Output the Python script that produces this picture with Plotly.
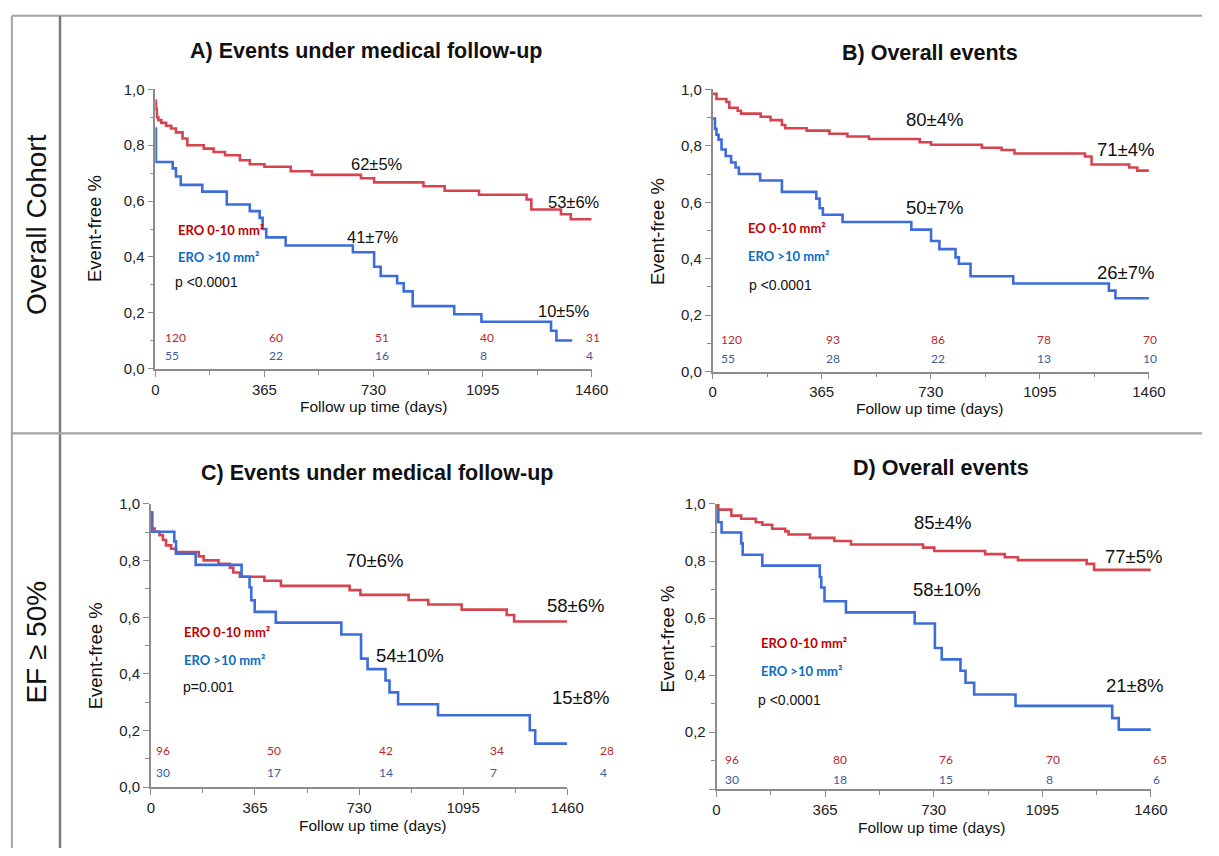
import plotly.graph_objects as go

# ---------------- data ----------------
X_TICKS = [0, 365, 730, 1095, 1460]
X_TICK_TEXT = ["0", "365", "730", "1095", "1460"]
Y_TICKS = [0.0, 0.2, 0.4, 0.6, 0.8, 1.0]
Y_TICK_TEXT = ["0,0", "0,2", "0,4", "0,6", "0,8", "1,0"]

# Panel A - Overall cohort, events under medical follow-up
A_red_t = [0, 2, 5, 10, 20, 36, 53, 69, 91, 107, 162, 195, 233, 283, 316, 365, 453, 524, 688, 732,
           897, 968, 1083, 1242, 1258, 1357, 1390, 1460]
A_red_s = [0.96, 0.93, 0.90, 0.89, 0.88, 0.87, 0.86, 0.846, 0.824, 0.80, 0.788, 0.776, 0.764, 0.746,
           0.732, 0.723, 0.707, 0.694, 0.682, 0.667, 0.653, 0.637, 0.623, 0.606, 0.570, 0.553, 0.535, 0.535]
A_blue_t = [0, 2, 58, 69, 85, 157, 239, 316, 349, 359, 371, 436, 661, 732, 754, 809, 831, 861, 1000,
            1091, 1324, 1342, 1395]
A_blue_s = [0.86, 0.74, 0.717, 0.688, 0.658, 0.634, 0.588, 0.564, 0.540, 0.50, 0.47, 0.441, 0.417,
            0.365, 0.332, 0.306, 0.277, 0.224, 0.195, 0.168, 0.136, 0.101, 0.101]

# Panel B - Overall cohort, overall events
B_red_t = [0, 13, 46, 56, 84, 95, 161, 194, 232, 243, 315, 391, 451, 523, 693, 731, 901, 967, 1010,
           1246, 1268, 1394, 1421, 1460]
B_red_s = [0.984, 0.966, 0.955, 0.935, 0.924, 0.914, 0.903, 0.891, 0.874, 0.862, 0.854, 0.843, 0.833,
           0.824, 0.8125, 0.804, 0.793, 0.785, 0.773, 0.762, 0.734, 0.723, 0.712, 0.712]
B_blue_t = [0, 8, 13, 20, 30, 44, 62, 77, 88, 159, 232, 347, 358, 369, 435, 665, 731, 759, 813, 824,
            863, 1006, 1326, 1348, 1460]
B_blue_s = [0.897, 0.86, 0.839, 0.822, 0.787, 0.764, 0.741, 0.723, 0.700, 0.677, 0.637, 0.613, 0.579,
            0.556, 0.530, 0.503, 0.463, 0.434, 0.405, 0.382, 0.338, 0.3125, 0.287, 0.260, 0.260]

# Panel C - EF >= 50%, events under medical follow-up
C_red_t = [0, 5, 13, 30, 42, 53, 71, 88, 168, 185, 237, 277, 289, 312, 398, 456, 697, 735, 904, 973,
           1090, 1248, 1274, 1460]
C_red_s = [0.97, 0.913, 0.902, 0.890, 0.873, 0.854, 0.842, 0.830, 0.815, 0.801, 0.789, 0.775, 0.758,
           0.743, 0.729, 0.711, 0.696, 0.679, 0.661, 0.645, 0.627, 0.608, 0.585, 0.585]
C_blue_t = [0, 2, 82, 88, 157, 318, 346, 352, 364, 438, 668, 737, 760, 823, 837, 867, 1007, 1329, 1348, 1460]
C_blue_s = [0.971, 0.902, 0.868, 0.824, 0.785, 0.743, 0.706, 0.660, 0.619, 0.581, 0.539, 0.454, 0.417,
            0.377, 0.335, 0.293, 0.254, 0.201, 0.154, 0.154]

# Panel D - EF >= 50%, overall events
D_red_t = [0, 6, 50, 83, 132, 154, 187, 231, 242, 314, 396, 452, 694, 732, 903, 969, 1013, 1244, 1269, 1460]
D_red_s = [1.0, 0.980, 0.959, 0.948, 0.936, 0.927, 0.913, 0.904, 0.893, 0.881, 0.870, 0.858, 0.847,
           0.835, 0.824, 0.813, 0.803, 0.790, 0.769, 0.769]
D_blue_t = [0, 6, 17, 83, 88, 154, 347, 352, 363, 435, 666, 734, 757, 820, 837, 866, 1005, 1330, 1352, 1460]
D_blue_s = [0.976, 0.936, 0.900, 0.862, 0.822, 0.784, 0.744, 0.707, 0.659, 0.620, 0.581, 0.495, 0.455,
            0.415, 0.373, 0.332, 0.292, 0.249, 0.209, 0.209]

# Numbers at risk
A_risk_red = [120, 60, 51, 40, 31]
A_risk_blue = [55, 22, 16, 8, 4]
B_risk_red = [120, 93, 86, 78, 70]
B_risk_blue = [55, 28, 22, 13, 10]
C_risk_red = [96, 50, 42, 34, 28]
C_risk_blue = [30, 17, 14, 7, 4]
D_risk_red = [96, 80, 76, 70, 65]
D_risk_blue = [30, 18, 15, 8, 6]

# Survival labels
A_labels = ["62±5%", "53±6%", "41±7%", "10±5%"]
B_labels = ["80±4%", "71±4%", "50±7%", "26±7%"]
C_labels = ["70±6%", "58±6%", "54±10%", "15±8%"]
D_labels = ["85±4%", "77±5%", "58±10%", "21±8%"]

TITLES = ["A) Events under medical follow-up", "B) Overall events",
          "C) Events under medical follow-up", "D) Overall events"]
LEG_RED = ["ERO 0-10 mm²", "EO 0-10 mm²", "ERO 0-10 mm²", "ERO 0-10 mm²"]
LEG_BLUE = ["ERO >10 mm²", "ERO >10 mm²", "ERO >10 mm²", "ERO >10 mm²"]
P_VALUES = ["p <0.0001", "p <0.0001", "p=0.001", "p <0.0001"]
ROW_LABELS = ["Overall Cohort", "EF ≥ 50%"]

# ---------------- styles / layout positions (pixels) ----------------
W, H = 1219, 856
RED_LINE, BLUE_LINE = "#d6454f", "#3c6ddb"
RED_TXT, BLUE_TXT = "#c00000", "#0b6cc2"
RED_RISK, BLUE_RISK = "#b8272d", "#3a5b9f"
AXIS = "#8c8c8c"
FONT = "Liberation Sans, Arial, sans-serif"
FONT2 = "Lato, Open Sans, sans-serif"


def px(x):
    return x / W


def py(y):
    return 1 - y / H


PANELS = [
    dict(box=(154, 598, 82, 367), red=(A_red_t, A_red_s), blue=(A_blue_t, A_blue_s),
         risk=(A_risk_red, A_risk_blue), risk_x=[161.7, 268, 375, 482.7, 590], risk_y=(335, 354),
         labels=A_labels, label_xy=[(380, 158), (580, 197), (375, 233), (570, 308)], label_size=16.5,
         title_xy=(368, 43), ytitle_xy=(92, 224), xtitle_xy=(376, 406),
         leg_x=175, leg_y=(225, 253), p_xy=(171.5, 279), show_zero=True),
    dict(box=(721, 1165, 82, 370), red=(B_red_t, B_red_s), blue=(B_blue_t, B_blue_s),
         risk=(B_risk_red, B_risk_blue), risk_x=[727.3, 834, 941.7, 1049.3, 1156.7], risk_y=(337, 357),
         labels=B_labels, label_xy=[(946.7, 113), (1140.7, 143.5), (946.7, 203), (1140.7, 268.5)],
         label_size=18.5, title_xy=(942, 45), ytitle_xy=(665, 227), xtitle_xy=(942, 408),
         leg_x=755, leg_y=(223, 252), p_xy=(756.5, 282), show_zero=True),
    dict(box=(149.5, 573, 505, 794), red=(C_red_t, C_red_s), blue=(C_blue_t, C_blue_s),
         risk=(C_risk_red, C_risk_blue), risk_x=[152.7, 266, 379.3, 492.7, 604.3], risk_y=(757, 778.5),
         labels=C_labels, label_xy=[(376.7, 563), (582, 608.5), (412.7, 659.5), (587, 702)],
         label_size=18.5, title_xy=(380, 473), ytitle_xy=(94, 660), xtitle_xy=(375, 833),
         leg_x=180.7, leg_y=(636, 664), p_xy=(180.5, 692), show_zero=True),
    dict(box=(725, 1167, 505, 796), red=(D_red_t, D_red_s), blue=(D_blue_t, D_blue_s),
         risk=(D_risk_red, D_risk_blue), risk_x=[731.7, 841.7, 949.3, 1058.3, 1166.7], risk_y=(766, 786),
         labels=D_labels, label_xy=[(955, 523.5), (1149.5, 558.5), (960, 592), (1150, 690)],
         label_size=18.5, title_xy=(953, 468), ytitle_xy=(675, 643), xtitle_xy=(943.5, 835),
         leg_x=768.3, leg_y=(647, 675), p_xy=(765, 705), show_zero=False),
]

fig = go.Figure()
annotations = []

for i, p in enumerate(PANELS):
    n = i + 1
    xa, ya = ("x", "y") if n == 1 else (f"x{n}", f"y{n}")
    x0, x1, ytop, ybot = p["box"]
    for (t, s), col in ((p["red"], RED_LINE), (p["blue"], BLUE_LINE)):
        fig.add_trace(go.Scatter(x=t, y=s, mode="lines", xaxis=xa, yaxis=ya,
                                 line=dict(color=col, width=2.6, shape="hv"),
                                 showlegend=False, hoverinfo="skip"))
    ytext = list(Y_TICK_TEXT) if p["show_zero"] else [""] + Y_TICK_TEXT[1:]
    axis_common = dict(showline=True, linecolor=AXIS, linewidth=1.6, ticks="outside",
                       ticklen=6, tickwidth=1.3, tickcolor=AXIS, showgrid=False, zeroline=False,
                       tickfont=dict(family=FONT, size=15, color="#222"), fixedrange=True)
    fig.layout["xaxis" + ("" if n == 1 else str(n))] = dict(
        domain=[px(x0), px(x1)], range=[0, 1460], anchor=ya, tickmode="array",
        tickvals=X_TICKS, ticktext=X_TICK_TEXT,
        minor=dict(tickmode="array", tickvals=[182.5, 547.5, 912.5, 1277.5], ticks="outside",
                   ticklen=4, tickcolor=AXIS, tickwidth=1.2, showgrid=False),
        **axis_common)
    fig.layout["yaxis" + ("" if n == 1 else str(n))] = dict(
        domain=[py(ybot), py(ytop)], range=[0, 1.0], anchor=xa, tickmode="array",
        tickvals=Y_TICKS, ticktext=ytext,
        minor=dict(tickmode="array", tickvals=[0.1, 0.3, 0.5, 0.7, 0.9], ticks="outside",
                   ticklen=4, tickcolor=AXIS, tickwidth=1.2, showgrid=False),
        **axis_common)

    annotations.append(dict(text=f"<b>{TITLES[i]}</b>", x=px(p["title_xy"][0]), y=py(p["title_xy"][1]),
                            xref="paper", yref="paper", xanchor="center", yanchor="middle",
                            showarrow=False, font=dict(family=FONT, size=21.5, color="#111")))
    annotations.append(dict(text="Event-free %", x=px(p["ytitle_xy"][0]), y=py(p["ytitle_xy"][1]),
                            xref="paper", yref="paper", textangle=-90, xanchor="center",
                            yanchor="middle", showarrow=False,
                            font=dict(family=FONT, size=18.5, color="#111")))
    annotations.append(dict(text="Follow up time (days)", x=px(p["xtitle_xy"][0]),
                            y=py(p["xtitle_xy"][1]), xref="paper", yref="paper", xanchor="center",
                            yanchor="middle", showarrow=False,
                            font=dict(family=FONT, size=15.5, color="#111")))
    for txt, (lx, ly) in zip(p["labels"], p["label_xy"]):
        annotations.append(dict(text=txt, x=px(lx), y=py(ly), xref="paper", yref="paper",
                                xanchor="center", yanchor="middle", showarrow=False,
                                font=dict(family=FONT, size=p["label_size"], color="#111")))
    annotations.append(dict(text=f"<b>{LEG_RED[i]}</b>", x=px(p["leg_x"]), y=py(p["leg_y"][0]),
                            xref="paper", yref="paper", xanchor="left", yanchor="middle",
                            showarrow=False, font=dict(family=FONT2, size=13, color=RED_TXT)))
    annotations.append(dict(text=f"<b>{LEG_BLUE[i]}</b>", x=px(p["leg_x"]), y=py(p["leg_y"][1]),
                            xref="paper", yref="paper", xanchor="left", yanchor="middle",
                            showarrow=False, font=dict(family=FONT2, size=13, color=BLUE_TXT)))
    annotations.append(dict(text=P_VALUES[i], x=px(p["p_xy"][0]), y=py(p["p_xy"][1]),
                            xref="paper", yref="paper", xanchor="left", yanchor="middle",
                            showarrow=False, font=dict(family=FONT, size=14, color="#111")))
    rr, rb = p["risk"]
    for k, rxp in enumerate(p["risk_x"]):
        annotations.append(dict(text=str(rr[k]), x=px(rxp), y=py(p["risk_y"][0]), xref="paper",
                                yref="paper", xanchor="left", yanchor="middle", showarrow=False,
                                font=dict(family=FONT2, size=12, color=RED_RISK)))
        annotations.append(dict(text=str(rb[k]), x=px(rxp), y=py(p["risk_y"][1]), xref="paper",
                                yref="paper", xanchor="left", yanchor="middle", showarrow=False,
                                font=dict(family=FONT2, size=12, color=BLUE_RISK)))

for txt, ry in zip(ROW_LABELS, (220, 646)):
    annotations.append(dict(text=txt, x=px(33), y=py(ry), xref="paper", yref="paper",
                            textangle=-90, xanchor="center", yanchor="middle", showarrow=False,
                            font=dict(family=FONT, size=28, color="#111")))

FRAME = "#a3a3a3"
shapes = [
    dict(type="line", xref="paper", yref="paper", x0=px(8), x1=px(W), y0=py(7), y1=py(7),
         line=dict(color=FRAME, width=2)),
    dict(type="line", xref="paper", yref="paper", x0=px(8), x1=px(8), y0=py(7), y1=py(H),
         line=dict(color=FRAME, width=2)),
    dict(type="line", xref="paper", yref="paper", x0=px(57), x1=px(57), y0=py(7), y1=py(H),
         line=dict(color="#7d7d7d", width=2.5)),
    dict(type="line", xref="paper", yref="paper", x0=px(8), x1=px(W), y0=py(433), y1=py(433),
         line=dict(color=FRAME, width=2.2)),
]

fig.update_layout(width=W, height=H, margin=dict(l=0, r=0, t=0, b=0),
                  paper_bgcolor="white", plot_bgcolor="white",
                  annotations=annotations, shapes=shapes, showlegend=False)

fig.write_html("out.html", config={"displayModeBar": False},
               post_script="document.body.style.margin='0';document.body.style.overflow='hidden';")
